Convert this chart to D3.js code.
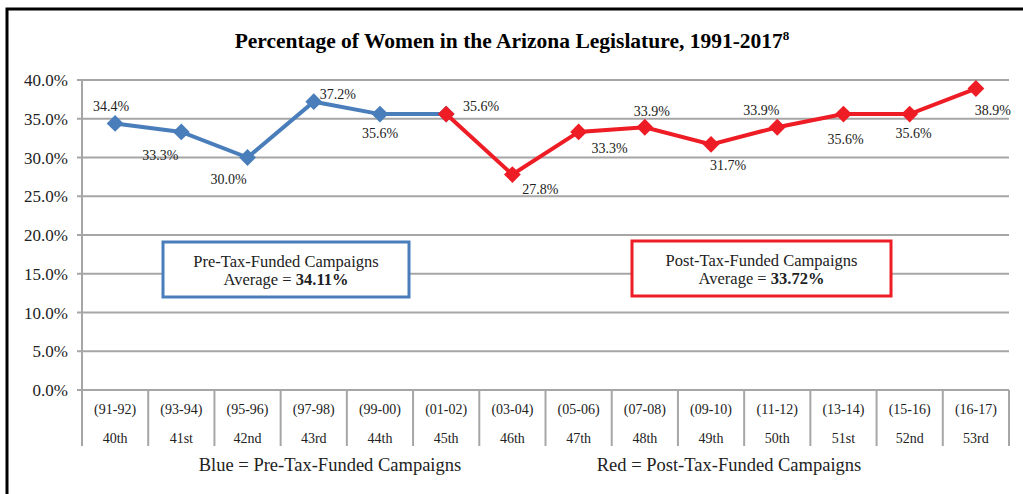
<!DOCTYPE html>
<html>
<head>
<meta charset="utf-8">
<script src="https://cdn.jsdelivr.net/npm/d3@7"></script>
<style>
  body { margin: 0; background: #fff; }
  text { font-family: "Liberation Serif", "Times New Roman", serif; fill: #222; }
</style>
</head>
<body>
<div id="chart"></div>
<script>
// data
var sessions = ["40th", "41st", "42nd", "43rd", "44th", "45th", "46th", "47th", "48th", "49th", "50th", "51st", "52nd", "53rd"];
var years = ["(91-92)", "(93-94)", "(95-96)", "(97-98)", "(99-00)", "(01-02)", "(03-04)", "(05-06)", "(07-08)", "(09-10)", "(11-12)", "(13-14)", "(15-16)", "(16-17)"];
var preValues = [34.4, 33.3, 30.0, 37.2, 35.6, 35.6];          // 40th..45th
var postValues = [35.6, 27.8, 33.3, 33.9, 31.7, 33.9, 35.6, 35.6, 38.9]; // 45th..53rd
var postStart = 5;
var yTicks = [0, 5, 10, 15, 20, 25, 30, 35, 40];
var preAverage = "34.11%";
var postAverage = "33.72%";

// label centre offsets (dx, dy) from each point, like the hand-placed excel labels
var preLabelPos = [[-4, -17], [-21, 23], [-19, 22], [24, -8], [0, 19], [0, 0]];
var postLabelPos = [[35, -8], [28, 15], [31, 16], [7, -16], [17, 21], [-16, -17], [2, 25], [4, 19], [17, 22]];

var svgWidth = 1023;
var svgHeight = 494;
var blue = "#4a7ebb";
var red = "#ee1c25";

var svg = d3.select("#chart")
  .append("svg")
  .attr("width", svgWidth)
  .attr("height", svgHeight);

// outer frame (right/bottom edges fall outside the picture)
svg.append("rect")
  .attr("x", 7)
  .attr("y", 9)
  .attr("width", 1030)
  .attr("height", 500)
  .attr("fill", "none")
  .attr("stroke", "#000")
  .attr("stroke-width", 3);

svg.append("text")
  .attr("x", 512)
  .attr("y", 48)
  .attr("text-anchor", "middle")
  .attr("font-size", "21.5px")
  .attr("font-weight", "bold")
  .style("fill", "#000")
  .text("Percentage of Women in the Arizona Legislature, 1991-2017")
  .append("tspan")
  .attr("font-size", "13px")
  .attr("dy", -8)
  .text("8");

var x = d3.scaleBand()
  .domain(d3.range(sessions.length))
  .range([82, 1009]);

var y = d3.scaleLinear()
  .domain([0, 40])
  .range([390, 80]);

var cx = function(i) { return x(i) + x.bandwidth() / 2; };

// gridlines + y axis labels
svg.append("g")
  .selectAll("line")
  .data(yTicks)
  .enter()
  .append("line")
  .attr("x1", 77)
  .attr("x2", 1009)
  .attr("y1", d => y(d))
  .attr("y2", d => y(d))
  .attr("stroke", "#a6a6a6")
  .attr("stroke-width", 2);

svg.append("g")
  .selectAll("text")
  .data(yTicks)
  .enter()
  .append("text")
  .attr("x", 68)
  .attr("y", d => y(d) + 6)
  .attr("text-anchor", "end")
  .attr("font-size", "17px")
  .text(d => d.toFixed(1) + "%");

// axis line and category separators
svg.append("line")
  .attr("x1", 82).attr("x2", 82)
  .attr("y1", 80).attr("y2", 446)
  .attr("stroke", "#a6a6a6")
  .attr("stroke-width", 2);

svg.append("g")
  .selectAll("line")
  .data(d3.range(1, sessions.length + 1))
  .enter()
  .append("line")
  .attr("x1", d => x(d - 1) + x.bandwidth())
  .attr("x2", d => x(d - 1) + x.bandwidth())
  .attr("y1", 390)
  .attr("y2", 446)
  .attr("stroke", "#a6a6a6")
  .attr("stroke-width", 2);

var catLabels = svg.append("g");
catLabels.selectAll(".yr")
  .data(years)
  .enter()
  .append("text")
  .attr("class", "yr")
  .attr("x", (d, i) => cx(i))
  .attr("y", 414)
  .attr("text-anchor", "middle")
  .attr("font-size", "14px")
  .text(d => d);
catLabels.selectAll(".ses")
  .data(sessions)
  .enter()
  .append("text")
  .attr("class", "ses")
  .attr("x", (d, i) => cx(i))
  .attr("y", 443)
  .attr("text-anchor", "middle")
  .attr("font-size", "14px")
  .text(d => d);

// series
var pre = preValues.map((v, i) => ({ i: i, v: v, pos: preLabelPos[i] }));
var post = postValues.map((v, i) => ({ i: i + postStart, v: v, pos: postLabelPos[i] }));

var line = d3.line()
  .x(d => cx(d.i))
  .y(d => y(d.v));

function drawSeries(data, color, skipLast) {
  var g = svg.append("g");
  g.append("path")
    .datum(data)
    .attr("d", line)
    .attr("fill", "none")
    .attr("stroke", color)
    .attr("stroke-width", 4);
  g.selectAll("path.mk")
    .data(data)
    .enter()
    .append("path")
    .attr("class", "mk")
    .attr("d", d3.symbol().type(d3.symbolDiamond2).size(180))
    .attr("transform", d => `translate(${cx(d.i)}, ${y(d.v)})`)
    .attr("fill", color);
  g.selectAll("text")
    .data(skipLast ? data.slice(0, -1) : data)
    .enter()
    .append("text")
    .attr("x", d => cx(d.i) + d.pos[0])
    .attr("y", d => y(d.v) + d.pos[1])
    .attr("dy", "0.35em")
    .attr("text-anchor", "middle")
    .attr("font-size", "14px")
    .text(d => d.v.toFixed(1) + "%");
}

drawSeries(pre, blue, true);
drawSeries(post, red, false);

// average boxes
function avgBox(x0, y0, w, h, color, title, avg) {
  var g = svg.append("g");
  g.append("rect")
    .attr("x", x0).attr("y", y0)
    .attr("width", w).attr("height", h)
    .attr("fill", "#fff")
    .attr("stroke", color)
    .attr("stroke-width", 3);
  g.append("text")
    .attr("x", x0 + w / 2)
    .attr("y", y0 + 25)
    .attr("text-anchor", "middle")
    .attr("font-size", "16.5px")
    .text(title);
  var t = g.append("text")
    .attr("x", x0 + w / 2)
    .attr("y", y0 + 43)
    .attr("text-anchor", "middle")
    .attr("font-size", "16.5px");
  t.append("tspan").text("Average = ");
  t.append("tspan").attr("font-weight", "bold").text(avg);
}

avgBox(163, 242, 246, 55, blue, "Pre-Tax-Funded Campaigns", preAverage);
avgBox(632, 241, 259, 55, red, "Post-Tax-Funded Campaigns", postAverage);

// notes under the axis
svg.append("text")
  .attr("x", 330)
  .attr("y", 471)
  .attr("text-anchor", "middle")
  .attr("font-size", "18.5px")
  .text("Blue = Pre-Tax-Funded Campaigns");
svg.append("text")
  .attr("x", 729)
  .attr("y", 471)
  .attr("text-anchor", "middle")
  .attr("font-size", "18.5px")
  .text("Red = Post-Tax-Funded Campaigns");
</script>
</body>
</html>
